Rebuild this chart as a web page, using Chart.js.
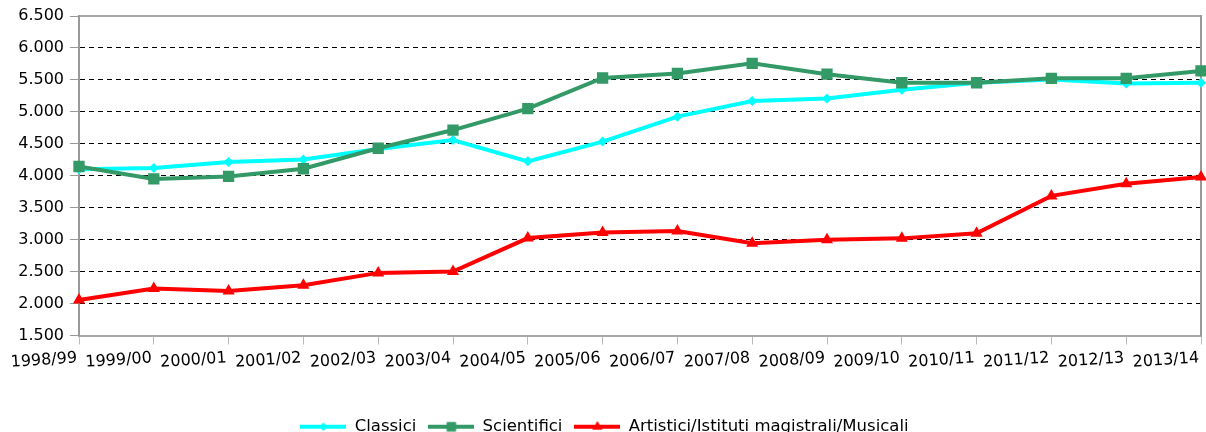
<!DOCTYPE html>
<html>
<head>
<meta charset="utf-8">
<script src="https://cdn.jsdelivr.net/npm/chart.js@4"></script>
<style>
  html, body { margin: 0; padding: 0; background: #fff; overflow: hidden; }
  #wrap { width: 1206px; height: 432px; overflow: hidden; }
</style>
</head>
<body>
<div id="wrap"><canvas id="chart" width="1209" height="445"></canvas></div>
<script>
// anni scolastici
const years = ['1998/99', '1999/00', '2000/01', '2001/02', '2002/03', '2003/04', '2004/05', '2005/06',
               '2006/07', '2007/08', '2008/09', '2009/10', '2010/11', '2011/12', '2012/13', '2013/14'];

const classici = [4100, 4120, 4215, 4255, 4420, 4560, 4225, 4535, 4925, 5170, 5210, 5345, 5455, 5505, 5445, 5455];
const scientifici = [4145, 3950, 3990, 4110, 4430, 4715, 5050, 5530, 5600, 5760, 5590, 5455, 5455, 5525, 5525, 5640];
const artistici = [2055, 2235, 2195, 2285, 2480, 2500, 3025, 3110, 3135, 2945, 3000, 3020, 3100, 3685, 3875, 3980];

const yTicks = [1500, 2000, 2500, 3000, 3500, 4000, 4500, 5000, 5500, 6000, 6500];

const seriesNames = ['Classici', 'Scientifici', 'Artistici/Istituti magistrali/Musicali'];
const seriesColors = ['#00FFFF', '#339966', '#FF0000'];
const seriesPoints = ['rectRot', 'rect', 'triangle'];
const seriesRadius = [5, 8, 7];

const FONT = "'DejaVu Sans', Verdana, sans-serif";

function fmt(v) {
    return String(v).replace(/\B(?=(\d{3})+(?!\d))/g, '.');
}

// piccola icona per la legenda: linea + marcatore
function legendIcon(i) {
    const c = document.createElement('canvas');
    c.width = 46; c.height = 16;
    const ctx = c.getContext('2d');
    ctx.strokeStyle = seriesColors[i];
    ctx.lineWidth = 4;
    ctx.beginPath(); ctx.moveTo(0, 8); ctx.lineTo(46, 8); ctx.stroke();
    ctx.fillStyle = seriesColors[i];
    Chart.helpers.drawPoint(ctx, { pointStyle: seriesPoints[i], radius: seriesRadius[i] * 0.8, borderWidth: 0 }, 23, 8);
    ctx.fill();
    return c;
}

const datasets = [classici, scientifici, artistici].map((data, i) => ({
    label: seriesNames[i],
    data: data,
    borderColor: seriesColors[i],
    backgroundColor: seriesColors[i],
    borderWidth: 4,
    pointStyle: seriesPoints[i],
    pointRadius: seriesRadius[i],
    pointBorderWidth: 0,
    tension: 0,
    order: [3, 2, 1][i]
}));

new Chart(document.getElementById('chart'), {
    type: 'line',
    data: { labels: years, datasets },
    options: {
        responsive: false,
        animation: false,
        layout: { padding: { top: 16, right: 0, left: 0, bottom: 0 } },
        scales: {
            x: {
                offset: false,
                grid: { drawOnChartArea: false, drawTicks: true, tickLength: 9, tickColor: '#bbb' },
                border: { color: '#aaa', width: 2 },
                ticks: { font: { family: FONT, size: 16 }, color: '#000', minRotation: 4, maxRotation: 4, autoSkip: false, padding: 4, labelOffset: -2 },
                afterFit: s => { s.height = 71; s.paddingLeft = 0; s.paddingRight = 0; }
            },
            x2: {
                position: 'top',
                grid: { display: false },
                border: { color: '#aaa', width: 2 },
                ticks: { display: false },
                afterFit: s => { s.height = 0; }
            },
            y: {
                min: 1500, max: 6500,
                afterBuildTicks: s => { s.ticks = yTicks.map(v => ({ value: v })); },
                grid: { color: '#000', tickColor: '#999', tickLength: 9, tickBorderDash: [] },
                border: { color: '#999', width: 2, dash: [5, 4] },
                ticks: { font: { family: FONT, size: 16 }, color: '#000', padding: 6, callback: v => fmt(v) },
                afterFit: s => { s.width = 79; }
            },
            y2: {
                position: 'right',
                min: 1500, max: 6500,
                grid: { display: false },
                border: { color: '#999', width: 2 },
                ticks: { display: false },
                afterFit: s => { s.width = 2; }
            }
        },
        plugins: {
            tooltip: { enabled: false },
            legend: {
                position: 'bottom',
                labels: {
                    font: { family: FONT, size: 16.5 },
                    color: '#000',
                    usePointStyle: true,
                    pointStyleWidth: 46,
                    padding: 12,
                    generateLabels: chart => chart.data.datasets.map((ds, i) => ({
                        text: ds.label,
                        pointStyle: legendIcon(i),
                        datasetIndex: i,
                        hidden: false,
                        lineWidth: 0,
                        fontColor: '#000'
                    }))
                }
            }
        }
    }
});
</script>
</body>
</html>
